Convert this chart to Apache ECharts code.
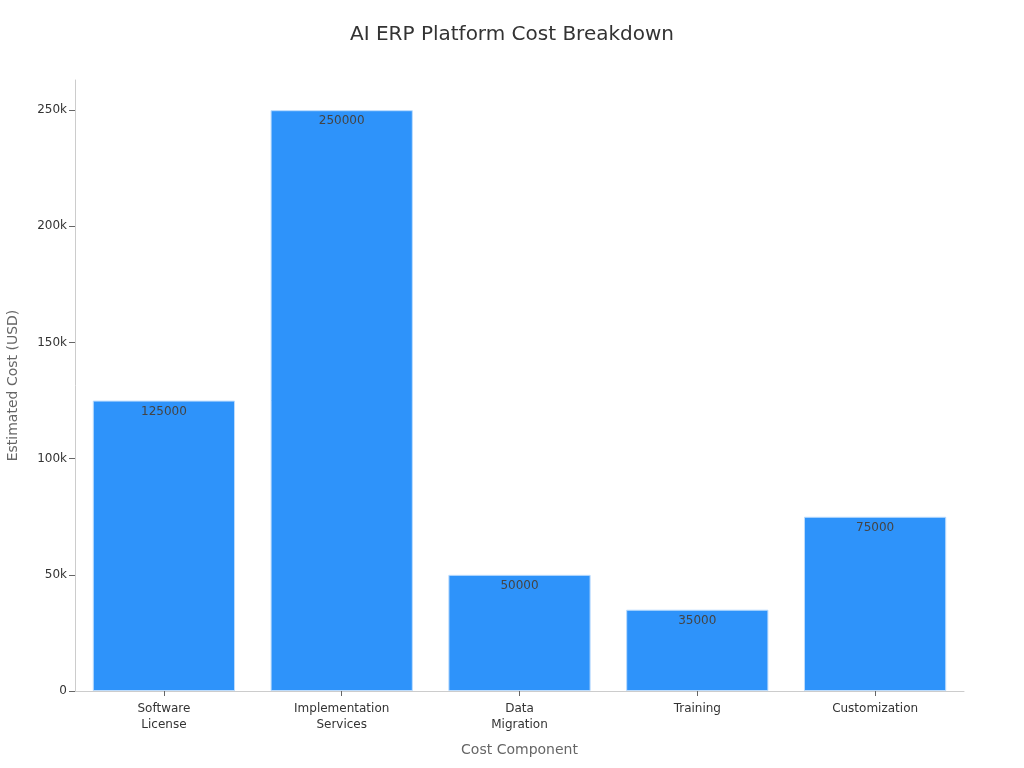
<!DOCTYPE html>
<html>
<head>
<meta charset="utf-8">
<script src="https://cdn.jsdelivr.net/npm/echarts@6/dist/echarts.min.js"></script>
<style>html,body{margin:0;padding:0;background:#fff}#c{width:1024px;height:768px}</style>
</head>
<body>
<div id="c"></div>
<script>
const categories = ["Software\nLicense", "Implementation\nServices", "Data\nMigration", "Training", "Customization"];
const costs = [125000, 250000, 50000, 35000, 75000];
const yTicks = [0, 50000, 100000, 150000, 200000, 250000];

const chart = echarts.init(document.getElementById('c'), null, {renderer: 'canvas'});
const font = "DejaVu Sans";
chart.setOption({
  animation: false,
  backgroundColor: '#fff',
  title: {
    text: 'AI ERP Platform Cost Breakdown',
    left: 'center', top: 20,
    textStyle: {fontFamily: font, fontSize: 20, fontWeight: 'normal', color: '#333'}
  },
  grid: {left: 75, right: 60, top: 80, bottom: 77, containLabel: false, outerBoundsMode: 'none'},
  xAxis: {
    type: 'category',
    data: categories,
    name: 'Cost Component',
    nameLocation: 'middle',
    nameGap: 52,
    nameTextStyle: {fontFamily: font, fontSize: 14, color: '#666'},
    axisLine: {lineStyle: {color: '#ccc'}},
    axisTick: {show: true, alignWithLabel: true, length: 5, lineStyle: {color: '#666'}},
    axisLabel: {fontFamily: font, fontSize: 12, color: '#333', margin: 10, lineHeight: 16}
  },
  yAxis: {
    type: 'value',
    min: 0, max: 263000,
    name: 'Estimated Cost (USD)',
    nameLocation: 'middle',
    nameGap: 55,
    nameTextStyle: {fontFamily: font, fontSize: 14, color: '#666'},
    axisLine: {show: true, lineStyle: {color: '#ccc'}},
    axisTick: {show: true, length: 6, lineStyle: {color: '#666'}, customValues: yTicks},
    axisLabel: {fontFamily: font, fontSize: 12, color: '#333', margin: 8, customValues: yTicks,
      formatter: v => v === 0 ? '0' : (v / 1000) + 'k'},
    splitLine: {show: false}
  },
  series: [{
    type: 'bar',
    data: costs,
    barCategoryGap: '20%',
    itemStyle: {color: '#2e93fa', borderColor: '#bcdcfd', borderWidth: 1},
    label: {show: true, position: 'insideTop', distance: 5, fontFamily: font, fontSize: 12, color: '#444'}
  }]
});
</script>
</body>
</html>
